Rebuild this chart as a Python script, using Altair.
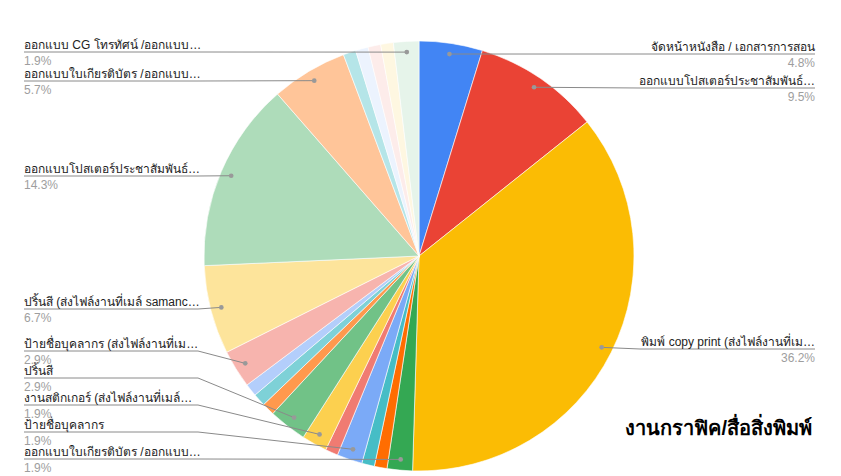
import altair as alt
import numpy as np
import pandas as pd

# ---------------- data ----------------
slice_ids = [f"s{i:02d}" for i in range(1, 23)]
slice_names = [
    "จัดหน้าหนังสือ / เอกสารการสอน",
    "ออกแบบโปสเตอร์ประชาสัมพันธ์…",
    "พิมพ์ copy print (ส่งไฟล์งานที่เม…",
    "ออกแบบใบเกียรติบัตร /ออกแบบ…",
    "", "",
    "ป้ายชื่อบุคลากร",
    "",
    "งานสติกเกอร์ (ส่งไฟล์งานที่เมล์…",
    "ปริ้นสี",
    "", "", "",
    "ป้ายชื่อบุคลากร (ส่งไฟล์งานที่เม…",
    "ปริ้นสี (ส่งไฟล์งานที่เมล์ samanc…",
    "ออกแบบโปสเตอร์ประชาสัมพันธ์…",
    "ออกแบบใบเกียรติบัตร /ออกแบบ…",
    "", "", "", "",
    "ออกแบบ CG โทรทัศน์ /ออกแบบ…",
]
slice_counts = [5, 10, 38, 2, 1, 1, 2, 1, 2, 3, 1, 1, 1, 3, 7, 15, 6, 1, 1, 1, 1, 2]
slice_colors = [
    "#4285F4", "#EA4335", "#FBBC04", "#34A853", "#FF6D01", "#46BDC6",
    "#7BAAF7", "#F07B72", "#FCD04F", "#71C287", "#FF994D", "#7ED1D7",
    "#B3CEFB", "#F7B4AE", "#FDE49B", "#AEDCBA", "#FFC599", "#B5E5E8",
    "#ECF3FE", "#FDECEA", "#FEF7E1", "#E6F4EA",
]
title_text = "งานกราฟิค/สื่อสิ่งพิมพ์"

# labelled slices: (slice index, side, label line y in px)
label_slices = [0, 1, 2, 21, 16, 15, 14, 13, 9, 8, 6, 3]
label_side = ["R", "R", "R", "L", "L", "L", "L", "L", "L", "L", "L", "L"]
label_line_y = [46, 80, 341, 44, 73, 168, 301, 343, 370, 397, 424, 451]

# ---------------- layout ----------------
W, H = 825, 468
CX, CY, R = 411, 248, 215
DOT_R = 0.95 * R
LEFT_X, LEFT_BEND = 16, 190
RIGHT_X, RIGHT_BEND = 807, 632

total = sum(slice_counts)
cum = np.cumsum([0] + slice_counts)
mid_angle = [(cum[i] + slice_counts[i] / 2) / total * 2 * np.pi for i in range(len(slice_counts))]

slices = pd.DataFrame({
    "id": slice_ids,
    "name": slice_names,
    "count": slice_counts,
    "idx": list(range(len(slice_ids))),
})

line_rows, dot_rows, text_rows = [], [], []
for k, (si, side, ly) in enumerate(zip(label_slices, label_side, label_line_y)):
    a = mid_angle[si]
    dx = CX + DOT_R * np.sin(a)
    dy = CY - DOT_R * np.cos(a)
    if side == "L":
        pts = [(LEFT_X, ly), (min(LEFT_BEND, dx), ly), (dx, dy)]
        tx = LEFT_X
    else:
        pts = [(RIGHT_X, ly), (max(RIGHT_BEND, dx), ly), (dx, dy)]
        tx = RIGHT_X
    for s, (px, py) in enumerate(pts):
        line_rows.append({"lab": k, "seq": s, "x": px, "y": py})
    dot_rows.append({"lab": k, "x": dx, "y": dy})
    pct = f"{100 * slice_counts[si] / total:.1f}%"
    text_rows.append({"lab": k, "side": side, "x": tx, "yn": ly - 3, "yp": ly + 13,
                      "name": slice_names[si], "pct": pct})

lines = pd.DataFrame(line_rows)
dots = pd.DataFrame(dot_rows)
texts = pd.DataFrame(text_rows)

xs = alt.Scale(domain=[0, W], nice=False, zero=False)
ys = alt.Scale(domain=[0, H], nice=False, zero=False, reverse=True)
FONT = "Liberation Sans"

pie = alt.Chart(slices).mark_arc(outerRadius=R, stroke="white", strokeWidth=0.6).encode(
    theta=alt.Theta("count:Q", stack=True),
    order=alt.Order("idx:Q"),
    color=alt.Color("id:N", scale=alt.Scale(domain=slice_ids, range=slice_colors), legend=None),
    x=alt.value(CX),
    y=alt.value(CY),
)

leader = alt.Chart(lines).mark_line(color="#8a8a8a", strokeWidth=1).encode(
    x=alt.X("x:Q", scale=xs, axis=None),
    y=alt.Y("y:Q", scale=ys, axis=None),
    detail="lab:N",
    order="seq:Q",
)

dot = alt.Chart(dots).mark_circle(size=22, color="#999999", opacity=1).encode(
    x=alt.X("x:Q", scale=xs, axis=None),
    y=alt.Y("y:Q", scale=ys, axis=None),
)

def label_layers(side, align):
    d = texts[texts["side"] == side]
    n = alt.Chart(d).mark_text(align=align, baseline="alphabetic", font=FONT,
                               fontSize=12, color="#222222").encode(
        x=alt.X("x:Q", scale=xs, axis=None),
        y=alt.Y("yn:Q", scale=ys, axis=None),
        text="name:N",
    )
    p = alt.Chart(d).mark_text(align=align, baseline="alphabetic", font=FONT,
                               fontSize=12, color="#9e9e9e").encode(
        x=alt.X("x:Q", scale=xs, axis=None),
        y=alt.Y("yp:Q", scale=ys, axis=None),
        text="pct:N",
    )
    return [n, p]

title = alt.Chart(pd.DataFrame({"t": [title_text]})).mark_text(
    align="right", baseline="alphabetic", font=FONT, fontSize=20, fontWeight="bold",
    color="#000000",
).encode(x=alt.value(804), y=alt.value(427), text="t:N")

chart = alt.layer(pie, leader, dot, *label_layers("L", "left"), *label_layers("R", "right"), title).properties(
    width=W, height=H, padding=0, autosize="none",
).configure_view(stroke=None)

chart.save("out.html", embed_options={"renderer": "svg", "actions": False})
